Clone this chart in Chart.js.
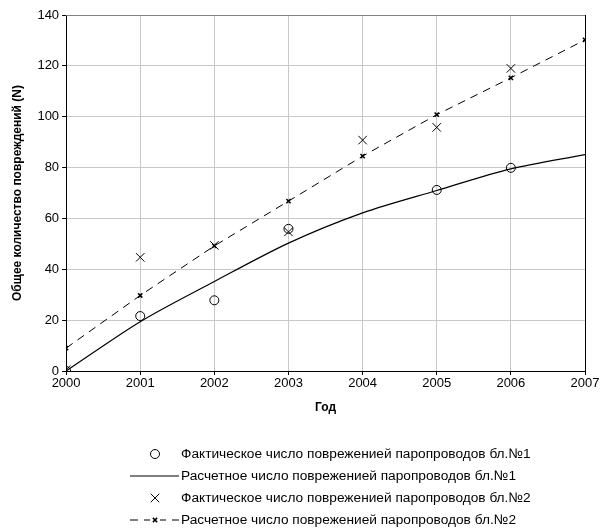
<!DOCTYPE html>
<html><head><meta charset="utf-8">
<script src="https://cdn.jsdelivr.net/npm/chart.js@4.4.0/dist/chart.umd.min.js"></script>
<style>html,body{margin:0;padding:0;background:#fff}#wrap{width:612px;height:529px;position:relative}</style>
</head><body><div id="wrap"><canvas id="c" width="612" height="529"></canvas></div>
<script>
const years = [2000, 2001, 2002, 2003, 2004, 2005, 2006, 2007];
const actual1 = [0, 21.6, 27.8, 55.9, null, 71.2, 79.9, null];
const calc1 = [0, 19.4, 35.2, 50.3, 62.2, 71.0, 79.5, 85.1];
const actual2 = [0.5, 44.7, 49.4, 54.7, 90.8, 95.8, 119, null];
const calc2 = [9, 29.7, 49.2, 66.8, 84.5, 100.8, 115.3, 130.2];
const yTicks = [0, 20, 40, 60, 80, 100, 120, 140];
const labels = [
  'Фактическое число повреженией паропроводов бл.№1',
  'Расчетное число повреженией паропроводов бл.№1',
  'Фактическое число повреженией паропроводов бл.№2',
  'Расчетное число повреженией паропроводов бл.№2'
];
const toXY = arr => years.map((y, i) => ({x: y, y: arr[i]})).filter(p => p.y !== null);
const FONT = 'Liberation Sans, Arial, sans-serif';

const legendPlugin = {
  id: 'customLegend',
  afterDraw(chart) {
    const ctx = chart.ctx;
    const rows = [454, 476, 498, 520];
    const textX = 181, markX = 155;
    ctx.save();
    ctx.font = '13.7px ' + FONT;
    ctx.textBaseline = 'middle';
    chart.data.datasets.forEach((ds, i) => {
      const y = rows[i];
      ctx.strokeStyle = '#000';
      if (ds.showLine) {
        ctx.lineWidth = ds.borderWidth;
        ctx.setLineDash(ds.borderDash || []);
        ctx.beginPath();
        ctx.moveTo(130, y); ctx.lineTo(179, y); ctx.stroke();
        ctx.setLineDash([]);
      }
      if (ds.pointRadius > 0) {
        if (ds.showLine) {
          ctx.fillStyle = '#fff';
          ctx.fillRect(markX - 5, y - 4, 10, 8);
        }
        ctx.fillStyle = 'rgba(0,0,0,0)';
        ctx.lineWidth = ds.pointBorderWidth;
        Chart.helpers.drawPoint(ctx, {pointStyle: ds.pointStyle, radius: ds.pointRadius, rotation: 0, borderWidth: ds.pointBorderWidth}, markX, y);
      }
      ctx.fillStyle = '#000';
      ctx.fillText(ds.label, textX, y);
    });
    const a = chart.chartArea;
    ctx.lineWidth = 1;
    ctx.strokeStyle = '#808080';
    ctx.beginPath(); ctx.moveTo(a.left, a.top + 0.5); ctx.lineTo(a.right, a.top + 0.5); ctx.stroke();
    ctx.strokeStyle = '#000';
    ctx.beginPath(); ctx.moveTo(Math.round(a.right) + 0.5, a.top); ctx.lineTo(Math.round(a.right) + 0.5, a.bottom + 4); ctx.stroke();
    ctx.restore();
  }
};

new Chart(document.getElementById('c'), {
  type: 'scatter',
  data: {
    datasets: [
      {label: labels[0], data: toXY(actual1), showLine: false, pointStyle: 'circle', pointRadius: 4.5, pointBorderWidth: 1, borderColor: '#000', backgroundColor: 'rgba(0,0,0,0)', pointBackgroundColor: 'rgba(0,0,0,0)', pointBorderColor: '#000', order: 1},
      {label: labels[1], data: toXY(calc1), showLine: true, pointRadius: 0, pointBorderWidth: 0, borderColor: '#000', borderWidth: 1.2, tension: 0.3, order: 3},
      {label: labels[2], data: toXY(actual2), showLine: false, pointStyle: 'crossRot', pointRadius: 6, pointBorderWidth: 1, borderColor: '#000', pointBorderColor: '#000', order: 2},
      {label: labels[3], data: toXY(calc2), showLine: true, pointStyle: 'crossRot', pointRadius: 3, pointBorderWidth: 1.5, borderColor: '#000', pointBorderColor: '#000', borderWidth: 1, borderDash: [8, 6], tension: 0, order: 4}
    ]
  },
  options: {
    responsive: false,
    animation: false,
    layout: {padding: {left: 10, right: 27, top: 15, bottom: 114}},
    plugins: {legend: {display: false}, tooltip: {enabled: false}},
    scales: {
      x: {
        type: 'linear', min: 2000, max: 2007,
        afterBuildTicks: s => { s.ticks = years.map(v => ({value: v})); },
        ticks: {color: '#000', font: {family: FONT, size: 13}, padding: 1, callback: v => String(v)},
        grid: {color: '#c8c8c8', tickColor: '#000', tickLength: 4, lineWidth: 1},
        border: {color: '#000', width: 1},
        title: {display: true, text: 'Год', color: '#000', font: {family: FONT, size: 12, weight: 'bold'}, padding: {top: 8, bottom: 0}}
      },
      y: {
        min: 0, max: 140,
        afterBuildTicks: s => { s.ticks = yTicks.map(v => ({value: v})); },
        ticks: {color: '#000', font: {family: FONT, size: 13}, padding: 3},
        grid: {color: '#c8c8c8', tickColor: '#000', tickLength: 4, lineWidth: 1},
        border: {color: '#000', width: 1},
        title: {display: true, text: 'Общее количество повреждений (N)', color: '#000', font: {family: FONT, size: 12, weight: 'bold'}, padding: {top: 0, bottom: 10}}
      }
    }
  },
  plugins: [legendPlugin]
});
</script></body></html>
